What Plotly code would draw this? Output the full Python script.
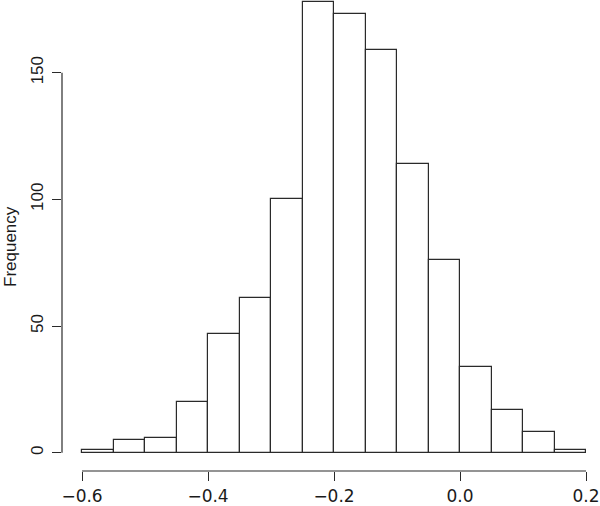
import plotly.graph_objects as go

# Histogram data (bin edges every 0.05 from -0.6 to 0.2)
bin_left = [-0.60, -0.55, -0.50, -0.45, -0.40, -0.35, -0.30, -0.25,
            -0.20, -0.15, -0.10, -0.05, 0.00, 0.05, 0.10, 0.15]
bin_width = 0.05
counts = [1, 5, 6, 20, 47, 61, 100, 178, 173, 159, 114, 76, 34, 17, 8, 1]

x_tick_vals = [-0.6, -0.4, -0.2, 0.0, 0.2]
x_tick_text = ["\u22120.6", "\u22120.4", "\u22120.2", "0.0", "0.2"]
y_tick_vals = [0, 50, 100, 150]
y_tick_text = ["0", "50", "100", "150"]
y_label = "Frequency"

centers = [b + bin_width / 2 for b in bin_left]

fig = go.Figure()
fig.add_trace(go.Bar(
    x=centers, y=counts, width=[bin_width] * len(counts),
    marker=dict(color="white", line=dict(color="#2a2a2a", width=1.2)),
    showlegend=False, hoverinfo="x+y",
))

# R-style axis lines spanning only first..last tick
fig.add_shape(type="line", xref="x", yref="paper",
              x0=x_tick_vals[0], x1=x_tick_vals[-1], y0=0, y1=0,
              line=dict(color="#2a2a2a", width=1.2))
fig.add_shape(type="line", xref="paper", yref="y",
              x0=0, x1=0, y0=y_tick_vals[0], y1=y_tick_vals[-1],
              line=dict(color="#2a2a2a", width=1.2))

fig.add_annotation(text=y_label, xref="paper", yref="paper",
                   x=0, y=0.4756, xanchor="center", yanchor="middle",
                   xshift=-51, textangle=-90, showarrow=False,
                   font=dict(family="Liberation Sans, Arial", size=17, color="#1a1a1a"))

fig.update_layout(
    width=600, height=506,
    margin=dict(l=62, r=0, t=0, b=35, autoexpand=False),
    paper_bgcolor="white", plot_bgcolor="white",
    bargap=0,
    xaxis=dict(range=[-0.6318, 0.2222], tickmode="array",
               tickvals=x_tick_vals, ticktext=x_tick_text,
               ticks="outside", ticklen=9, tickwidth=1.2, tickcolor="#2a2a2a",
               ticklabelstandoff=1,
               showgrid=False, zeroline=False, showline=False, automargin=False,
               tickfont=dict(family="DejaVu Sans", size=17, color="#1a1a1a")),
    yaxis=dict(range=[-7.22, 178.7], tickmode="array",
               tickvals=y_tick_vals, ticktext=y_tick_text,
               ticks="outside", ticklen=9, tickwidth=1.2, tickcolor="#2a2a2a",
               tickangle=-90, automargin=False, ticklabelstandoff=2,
               showgrid=False, zeroline=False, showline=False,
               tickfont=dict(family="Liberation Sans, Arial", size=17, color="#1a1a1a")),
)

fig.write_html("out.html", config={"displayModeBar": False},
               post_script="document.body.style.margin='0';document.body.style.overflow='hidden';")
